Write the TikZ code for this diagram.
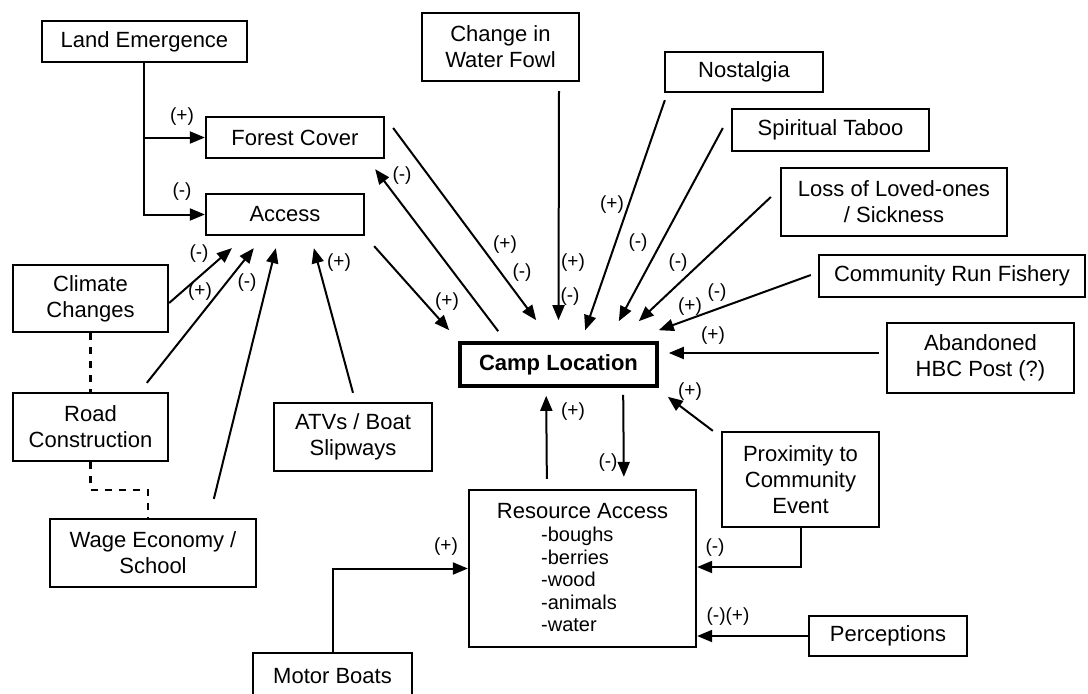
\documentclass[tikz,border=0pt]{standalone}
\usepackage{fontspec}
\setmainfont{Liberation Sans}
\usetikzlibrary{arrows.meta,calc}
\tikzset{
  box/.style={draw,line width=2.3pt,inner sep=0pt,align=center,font=\fontsize{22}{26}\selectfont},
  arr/.style={line width=2pt,-{Triangle[length=15pt,width=12pt]}},
  dline/.style={line width=2.2pt,dash pattern=on 7pt off 7pt},
  lab/.style={inner sep=0pt,font=\fontsize{19}{21}\selectfont}
}
\begin{document}
\begin{tikzpicture}[x=1pt,y=-1pt]
\fill[white] (0,0) rectangle (1088,694);
\useasboundingbox (0,0) rectangle (1088,694);
% nodes
\node[box,minimum width=205pt,minimum height=41pt] (le) at (144.5,41.5) {Land Emergence};
\node[box,minimum width=178pt,minimum height=41pt] (fc) at (295,137.5) {Forest Cover};
\node[box,minimum width=158pt,minimum height=41pt] (ac) at (285,214.5) {Access};
\node[box,minimum width=157pt,minimum height=68pt] (wf) at (500.5,47) {Change in\\Water Fowl};
\node[box,minimum width=158pt,minimum height=40pt] (no) at (744,72) {Nostalgia};
\node[box,minimum width=197pt,minimum height=42pt] (st) at (830.5,130) {Spiritual Taboo};
\node[box,minimum width=226pt,minimum height=68pt] (lo) at (894,202) {Loss of Loved-ones\\/ Sickness};
\node[box,minimum width=266pt,minimum height=42pt] (fi) at (952,276) {Community Run Fishery};
\node[box,minimum width=187pt,minimum height=70pt] (hbc) at (980.5,358) {Abandoned\\HBC Post (?)};
\node[box,line width=3.6pt,minimum width=197pt,minimum height=43pt,font=\fontsize{22}{26}\selectfont\bfseries] (cl) at (558.5,364.5) {Camp Location};
\node[box,minimum width=157pt,minimum height=95pt] (pr) at (800.5,479.5) {Proximity to\\Community\\Event};
\node[box,minimum width=158pt,minimum height=40pt] (pe) at (888,636) {Perceptions};
\node[box,minimum width=227pt,minimum height=157pt] (ra) at (582.5,568.5) {};
\node[inner sep=0pt,font=\fontsize{22}{26}\selectfont] (ratitle) at (582.5,511) {Resource Access};
\node[inner sep=0pt,anchor=north west,align=left,font=\fontsize{20}{22.5}\selectfont] (ralist) at (541,527) {-boughs\\-berries\\-wood\\-animals\\-water};
\node[box,minimum width=159pt,minimum height=46pt] (mb) at (332.5,676) {Motor Boats};
\node[box,minimum width=155pt,minimum height=67pt] (cc) at (90.5,298.5) {Climate\\Changes};
\node[box,minimum width=155pt,minimum height=68pt] (rc) at (90.5,427) {Road\\Construction};
\node[box,minimum width=206pt,minimum height=68pt] (we) at (153,553) {Wage Economy /\\School};
\node[box,minimum width=158pt,minimum height=68pt] (atv) at (353,437) {ATVs / Boat\\Slipways};
% connectors
\draw[arr] ($(le.south west)+(103,0)$) |- (fc.west);
\draw[arr] ($(le.south west)+(103,0)$) |- (ac.west);
\draw[arr] ($(fc.east)+(8,-9.5)$) -- ($(cl.north west)+(78,-21)$);
\draw[arr] ($(cl.north west)+(40,-10)$) -- ($(fc.south east)+(-10,10)$);
\draw[arr] ($(ac.south east)+(9,10)$) -- ($(cl.north west)+(-9,-11)$);
\draw[arr] ($(wf.south)+(58.5,9)$) -- ($(cl.north)+(0,-21)$);
\draw[arr] ($(no.south west)+(1,7)$) -- ($(cl.north west)+(127,-11)$);
\draw[arr] ($(st.west)+(-8,-2)$) -- ($(cl.north east)+(-40,-20)$);
\draw[arr] ($(lo.west)+(-9,-5)$) -- ($(cl.north east)+(-20,-20)$);
\draw[arr] ($(fi.west)+(-7,-1)$) -- ($(cl.north east)+(0,-11)$);
\draw[arr] ($(hbc.west)+(-7,-5)$) -- ($(cl.east)+(10,-11.5)$);
\draw[arr] ($(pr.north west)+(-8,0)$) -- ($(cl.south east)+(9,9)$);
\draw[arr] ($(cl.south west)+(165,7)$) -- ($(ra.north west)+(156,-12)$);
\draw[arr] ($(ra.north west)+(79,-10)$) -- ($(cl.south west)+(88,8)$);
\draw[arr] (pr.south) |- ($(ra.east)+(0,-1.5)$);
\draw[arr] (pe.west) -- (pe.west -| ra.east);
\draw[arr] (mb.north) |- (ra.west);
\draw[arr] ($(cc.east)+(0,4.5)$) -- ($(ac.south west)+(27,12)$);
\draw[arr] ($(rc.north west)+(135,-9)$) -- ($(ac.south west)+(49,12)$);
\draw[arr] ($(we.north west)+(165,-19)$) -- ($(ac.south west)+(71,12)$);
\draw[arr] ($(atv.north)+(0,-9)$) -- ($(ac.south west)+(109,12)$);
\draw[dline] (cc.south) -- (rc.north);
\draw[dline] (rc.south) |- ($(we.north)+(-5,-28)$) -- ($(we.north)+(-5,0)$);
% labels
\node[lab] (l1) at (182,117) {(+)};
\node[lab] (l2) at (182,192) {(-)};
\node[lab] (l3) at (505,245) {(+)};
\node[lab] (l4) at (522,273) {(-)};
\node[lab] (l5) at (402,176) {(-)};
\node[lab] (l6) at (447,302) {(+)};
\node[lab] (l7) at (573,263) {(+)};
\node[lab] (l8) at (570,297) {(-)};
\node[lab] (l9) at (612,205) {(+)};
\node[lab] (l10) at (638,243) {(-)};
\node[lab] (l11) at (678,263) {(-)};
\node[lab] (l12) at (690,307) {(+)};
\node[lab] (l13) at (717,293) {(-)};
\node[lab] (l14) at (713,336) {(+)};
\node[lab] (l15) at (690,392) {(+)};
\node[lab] (l16) at (608,463) {(-)};
\node[lab] (l17) at (573,412) {(+)};
\node[lab] (l18) at (715,548) {(-)};
\node[lab] (l19) at (728,617) {(-)(+)};
\node[lab] (l20) at (446,547) {(+)};
\node[lab] (l21) at (199,254) {(-)};
\node[lab] (l22) at (200,292) {(+)};
\node[lab] (l23) at (247,283) {(-)};
\node[lab] (l24) at (339,263) {(+)};
\end{tikzpicture}
\end{document}
